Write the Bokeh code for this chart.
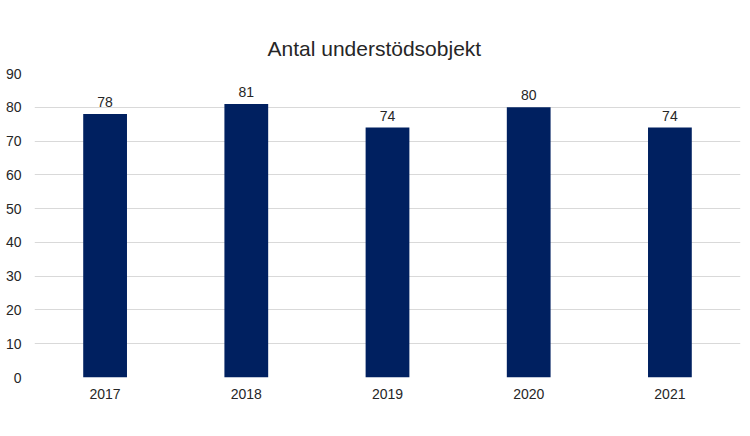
from bokeh.plotting import figure
from bokeh.models import ColumnDataSource, LabelSet, FactorRange, Range1d, SingleIntervalTicker
from bokeh.core.properties import value
from bokeh.embed import file_html
from bokeh.resources import INLINE

years = ["2017", "2018", "2019", "2020", "2021"]
counts = [78, 81, 74, 80, 74]
label_texts = [str(v) for v in counts]

src = ColumnDataSource(dict(x=years, y=counts, t=label_texts))

p = figure(x_range=FactorRange(*years, range_padding=0), y_range=Range1d(0, 90),
           width=750, height=436, output_backend="svg", toolbar_location=None,
           min_border_left=34, min_border_right=10, min_border_top=73, min_border_bottom=59,
           title="Antal understödsobjekt")
p.x_range.range_padding = 0
p.vbar(x="x", top="y", width=0.31, source=src, fill_color="#002060", line_color=None)

labels = LabelSet(x="x", y="y", text="t", source=src, y_offset=7, text_align="center",
                  text_baseline="bottom", text_font_size="14px", text_font=value("Liberation Sans"),
                  text_color="#262626")
p.add_layout(labels)

p.title.align = "left"
p.title.offset = 233
p.title.text_font = "Liberation Sans"
p.title.text_font_size = "21px"
p.title.text_font_style = "normal"
p.title.text_color = "#262626"
p.title.standoff = 28

p.outline_line_color = None
p.xgrid.grid_line_color = None
p.ygrid.grid_line_color = "#d9d9d9"
p.yaxis.ticker = SingleIntervalTicker(interval=10)
for ax in (p.xaxis, p.yaxis):
    ax.axis_line_color = None
    ax.major_tick_line_color = None
    ax.minor_tick_line_color = None
    ax.major_label_text_font = "Liberation Sans"
    ax.major_label_text_font_size = "14px"
    ax.major_label_text_color = "#262626"
p.yaxis.major_label_standoff = 7
p.xaxis.major_label_standoff = 5

open("out.html", "w").write(file_html(p, INLINE))
